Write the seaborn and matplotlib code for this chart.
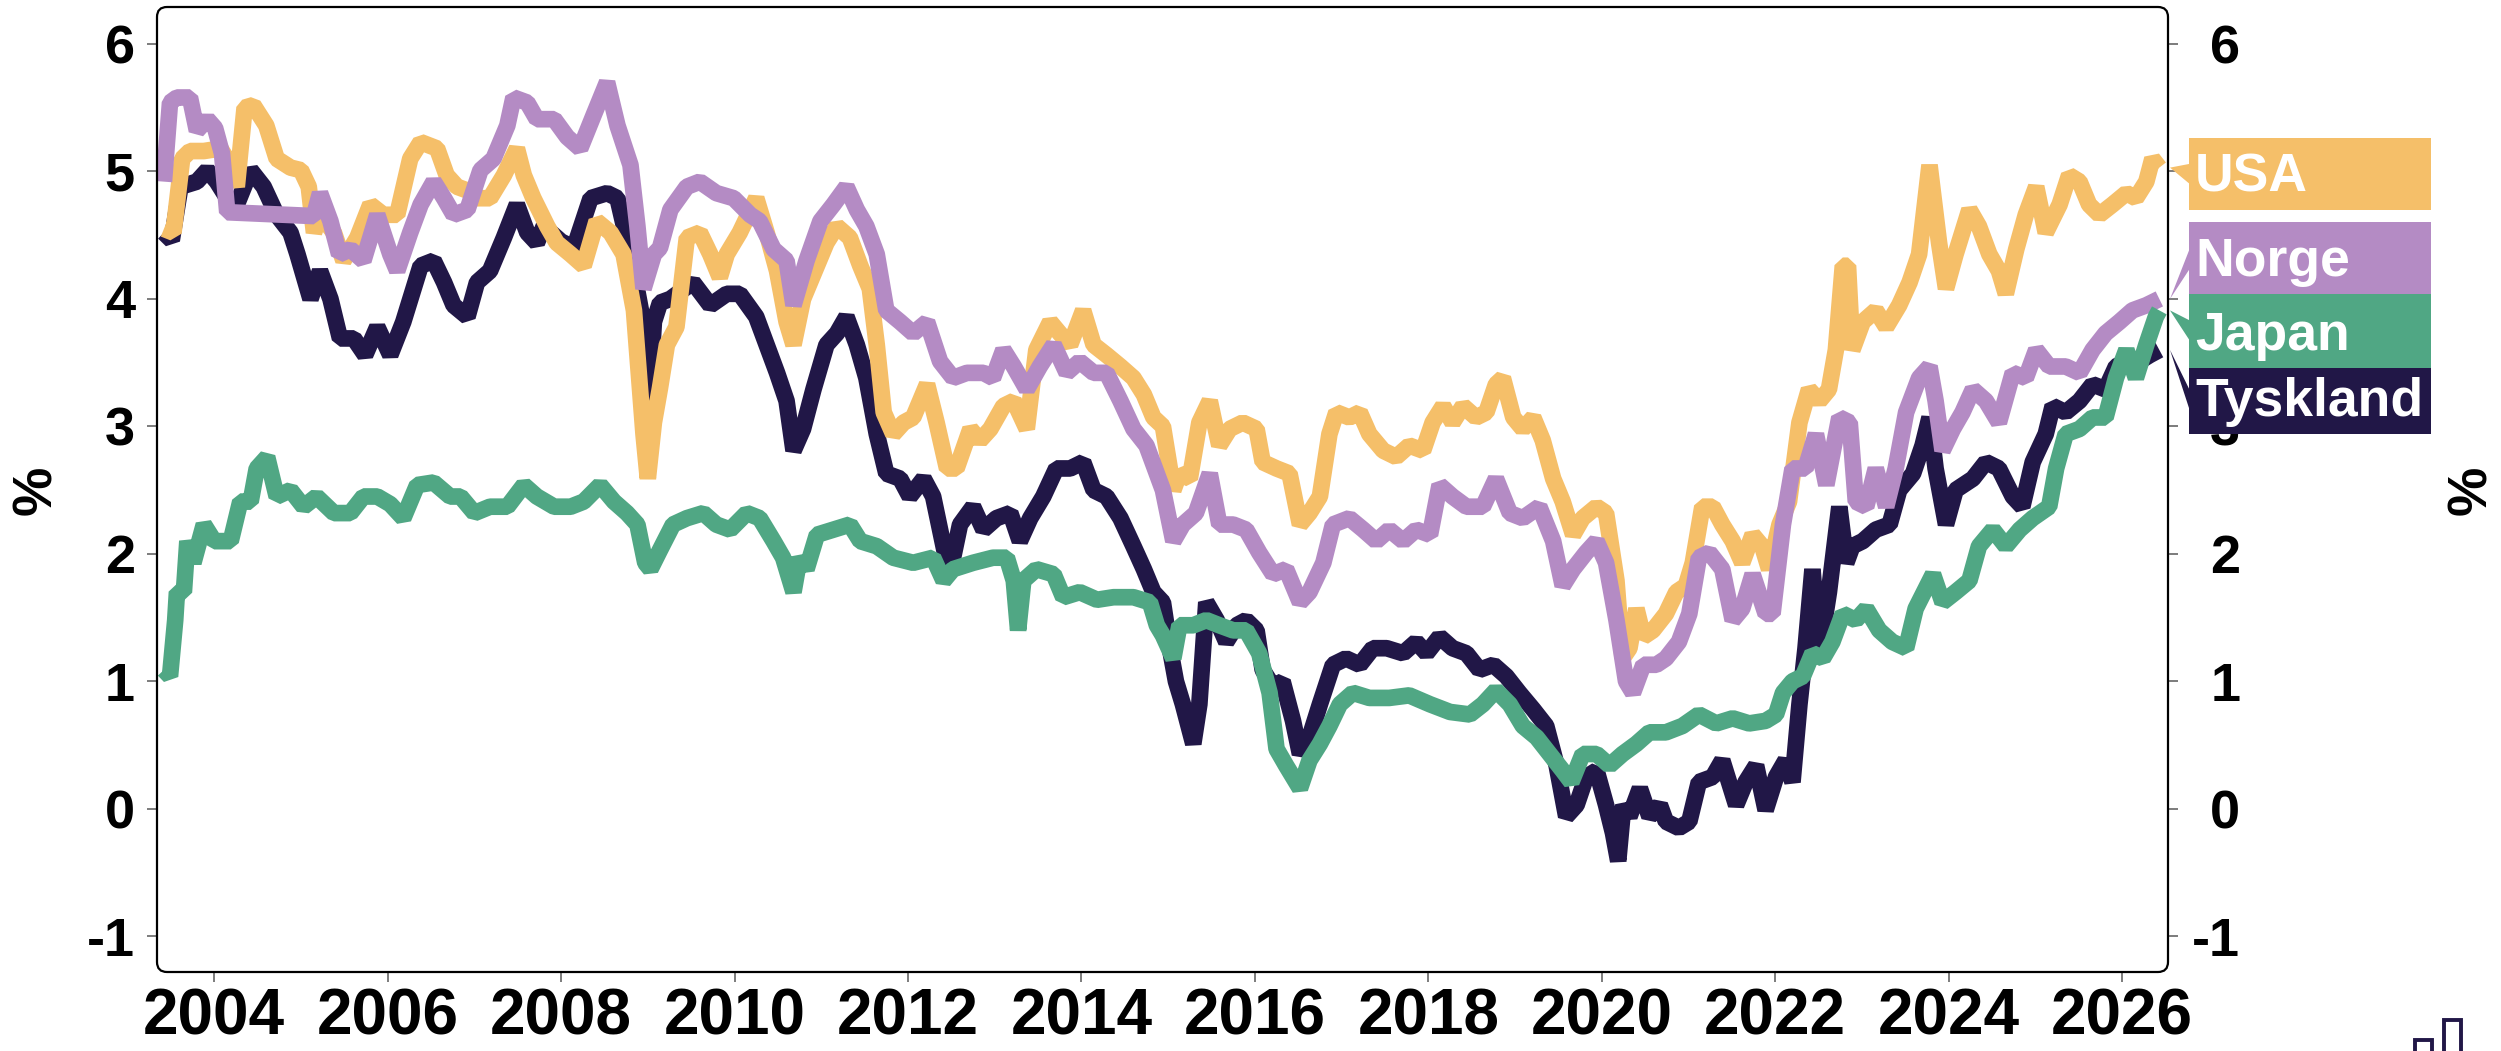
import numpy as np
import pandas as pd
import matplotlib
matplotlib.use("Agg")
import matplotlib.pyplot as plt
import matplotlib.transforms as mtransforms
from matplotlib.patches import FancyBboxPatch, Rectangle, Polygon
import seaborn as sns

# ---- data (decimal year, percent) ----
usa_year = [2003.42, 2003.53, 2003.63, 2003.72, 2003.88, 2004.07, 2004.19, 2004.26, 2004.35, 2004.45,
            2004.60, 2004.72, 2004.88, 2005.00, 2005.09, 2005.15, 2005.22, 2005.38, 2005.49, 2005.65,
            2005.80, 2005.95, 2006.11, 2006.26, 2006.38, 2006.57, 2006.68, 2006.80, 2006.92, 2007.03,
            2007.18, 2007.34, 2007.49, 2007.57, 2007.68, 2007.84, 2007.95, 2008.11, 2008.26, 2008.41,
            2008.57, 2008.72, 2008.84, 2008.95, 2009.00, 2009.07, 2009.14, 2009.22, 2009.33, 2009.45,
            2009.60, 2009.72, 2009.83, 2009.91, 2010.06, 2010.25, 2010.37, 2010.49, 2010.60, 2010.68,
            2010.79, 2010.95, 2011.06, 2011.18, 2011.33, 2011.45, 2011.56, 2011.64, 2011.72, 2011.83,
            2011.95, 2012.06, 2012.22, 2012.33, 2012.45, 2012.56, 2012.72, 2012.83, 2012.95, 2013.10,
            2013.22, 2013.37, 2013.48, 2013.64, 2013.75, 2013.87, 2014.02, 2014.14, 2014.29, 2014.45,
            2014.60, 2014.72, 2014.83, 2014.94, 2015.06, 2015.13, 2015.25, 2015.36, 2015.48, 2015.59,
            2015.71, 2015.86, 2016.02, 2016.09, 2016.25, 2016.40, 2016.52, 2016.63, 2016.75, 2016.86,
            2016.94, 2017.09, 2017.21, 2017.32, 2017.48, 2017.63, 2017.78, 2017.94, 2018.05, 2018.17,
            2018.28, 2018.40, 2018.55, 2018.67, 2018.78, 2018.86, 2018.98, 2019.09, 2019.21, 2019.32,
            2019.44, 2019.55, 2019.67, 2019.78, 2019.94, 2020.05, 2020.17, 2020.24, 2020.32, 2020.40,
            2020.48, 2020.59, 2020.74, 2020.86, 2020.97, 2021.05, 2021.16, 2021.28, 2021.39, 2021.51,
            2021.62, 2021.74, 2021.85, 2021.93, 2022.05, 2022.16, 2022.28, 2022.39, 2022.51, 2022.62,
            2022.70, 2022.78, 2022.84, 2022.89, 2023.01, 2023.16, 2023.28, 2023.43, 2023.55, 2023.66,
            2023.78, 2023.89, 2023.97, 2024.08, 2024.24, 2024.35, 2024.47, 2024.58, 2024.66, 2024.78,
            2024.89, 2025.01, 2025.12, 2025.28, 2025.39, 2025.51, 2025.62, 2025.74, 2025.89, 2026.05,
            2026.16, 2026.28, 2026.35, 2026.43]
usa_val = [4.55, 4.52, 5.10, 5.16, 5.16, 5.18, 5.05, 4.88, 5.50, 5.52,
           5.36, 5.10, 5.03, 5.01, 4.88, 4.52, 4.66, 4.52, 4.30, 4.48,
           4.74, 4.66, 4.66, 5.10, 5.23, 5.18, 4.97, 4.88, 4.85, 4.79,
           4.79, 4.97, 5.18, 4.97, 4.79, 4.57, 4.44, 4.35, 4.26, 4.61,
           4.52, 4.35, 3.91, 2.94, 2.59, 3.03, 3.30, 3.64, 3.78, 4.48,
           4.52, 4.35, 4.17, 4.35, 4.52, 4.79, 4.52, 4.22, 3.82, 3.64,
           4.00, 4.26, 4.44, 4.57, 4.48, 4.26, 4.08, 3.64, 3.11, 2.94,
           3.03, 3.07, 3.33, 3.03, 2.67, 2.67, 2.98, 2.89, 2.98, 3.16,
           3.20, 2.98, 3.60, 3.82, 3.73, 3.64, 3.91, 3.64, 3.56, 3.47,
           3.38, 3.25, 3.07, 3.00, 2.50, 2.63, 2.59, 3.03, 3.20, 2.85,
           2.98, 3.03, 2.98, 2.72, 2.67, 2.63, 2.23, 2.32, 2.45, 2.94,
           3.11, 3.07, 3.11, 2.94, 2.81, 2.76, 2.85, 2.81, 3.03, 3.16,
           3.03, 3.16, 3.07, 3.11, 3.33, 3.38, 3.07, 2.98, 3.07, 2.89,
           2.59, 2.41, 2.15, 2.28, 2.37, 2.32, 1.79, 1.18, 1.26, 1.57,
           1.35, 1.40, 1.53, 1.70, 1.75, 1.93, 2.37, 2.37, 2.23, 2.10,
           1.93, 2.15, 2.06, 1.88, 2.23, 2.41, 3.03, 3.29, 3.20, 3.29,
           3.60, 4.26, 4.26, 3.60, 3.82, 3.91, 3.78, 3.95, 4.13, 4.35,
           5.05, 4.44, 4.08, 4.35, 4.70, 4.57, 4.35, 4.22, 4.04, 4.39,
           4.66, 4.88, 4.52, 4.74, 4.97, 4.92, 4.74, 4.66, 4.74, 4.83,
           4.79, 4.92, 5.10, 5.03]

norge_year = [2003.42, 2003.49, 2003.57, 2003.72, 2003.80, 2003.92, 2004.01, 2004.09, 2004.15, 2005.15,
              2005.22, 2005.34, 2005.44, 2005.57, 2005.72, 2005.88, 2006.03, 2006.11, 2006.26, 2006.38,
              2006.53, 2006.65, 2006.76, 2006.92, 2007.07, 2007.22, 2007.38, 2007.45, 2007.61, 2007.72,
              2007.92, 2008.07, 2008.22, 2008.38, 2008.53, 2008.65, 2008.80, 2008.88, 2008.95, 2009.07,
              2009.14, 2009.26, 2009.45, 2009.60, 2009.79, 2009.99, 2010.18, 2010.29, 2010.45, 2010.60,
              2010.68, 2010.83, 2010.99, 2011.14, 2011.29, 2011.41, 2011.52, 2011.64, 2011.75, 2011.91,
              2012.06, 2012.22, 2012.37, 2012.52, 2012.68, 2012.87, 2012.98, 2013.10, 2013.22, 2013.37,
              2013.52, 2013.68, 2013.83, 2013.98, 2014.14, 2014.29, 2014.45, 2014.60, 2014.75, 2014.87,
              2014.94, 2015.06, 2015.17, 2015.32, 2015.48, 2015.59, 2015.75, 2015.90, 2016.05, 2016.21,
              2016.36, 2016.52, 2016.63, 2016.79, 2016.90, 2017.09, 2017.25, 2017.40, 2017.55, 2017.71,
              2017.86, 2018.02, 2018.13, 2018.28, 2018.44, 2018.63, 2018.78, 2018.94, 2019.09, 2019.28,
              2019.44, 2019.55, 2019.67, 2019.82, 2019.94, 2020.05, 2020.17, 2020.28, 2020.36, 2020.48,
              2020.63, 2020.74, 2020.89, 2021.01, 2021.12, 2021.24, 2021.39, 2021.51, 2021.62, 2021.74,
              2021.89, 2021.97, 2022.09, 2022.20, 2022.35, 2022.47, 2022.59, 2022.74, 2022.86, 2022.93,
              2023.05, 2023.16, 2023.28, 2023.39, 2023.51, 2023.66, 2023.78, 2023.85, 2023.93, 2024.05,
              2024.16, 2024.28, 2024.43, 2024.58, 2024.74, 2024.89, 2025.01, 2025.16, 2025.35, 2025.51,
              2025.66, 2025.81, 2025.97, 2026.12, 2026.28, 2026.43]
norge_val = [4.92, 5.54, 5.58, 5.58, 5.32, 5.41, 5.34, 5.14, 4.68, 4.65,
             4.83, 4.61, 4.35, 4.39, 4.30, 4.66, 4.35, 4.22, 4.52, 4.74,
             4.92, 4.79, 4.66, 4.70, 5.01, 5.10, 5.36, 5.58, 5.54, 5.41,
             5.41, 5.27, 5.18, 5.45, 5.70, 5.36, 5.05, 4.57, 4.08, 4.35,
             4.40, 4.70, 4.88, 4.92, 4.83, 4.79, 4.66, 4.61, 4.39, 4.30,
             3.95, 4.30, 4.61, 4.74, 4.88, 4.70, 4.57, 4.35, 3.91, 3.82,
             3.73, 3.82, 3.51, 3.38, 3.42, 3.42, 3.38, 3.60, 3.47, 3.29,
             3.47, 3.64, 3.42, 3.51, 3.42, 3.42, 3.20, 2.98, 2.85, 2.63,
             2.50, 2.10, 2.23, 2.32, 2.63, 2.23, 2.23, 2.19, 2.01, 1.84,
             1.88, 1.62, 1.70, 1.93, 2.23, 2.28, 2.19, 2.10, 2.19, 2.10,
             2.19, 2.15, 2.54, 2.45, 2.37, 2.37, 2.59, 2.32, 2.28, 2.37,
             2.10, 1.75, 1.88, 2.01, 2.10, 1.93, 1.48, 1.00, 0.91, 1.13,
             1.13, 1.18, 1.31, 1.53, 1.97, 2.01, 1.88, 1.48, 1.57, 1.84,
             1.53, 1.53, 2.23, 2.67, 2.67, 2.94, 2.54, 3.07, 3.03, 2.41,
             2.37, 2.67, 2.37, 2.67, 3.11, 3.38, 3.47, 3.20, 2.81, 2.98,
             3.11, 3.29, 3.20, 3.03, 3.42, 3.38, 3.60, 3.47, 3.47, 3.42,
             3.60, 3.73, 3.82, 3.91, 3.95, 4.00]

japan_year = [2003.42, 2003.49, 2003.55, 2003.57, 2003.65, 2003.69, 2003.76, 2003.88, 2004.00, 2004.19,
              2004.30, 2004.42, 2004.49, 2004.61, 2004.72, 2004.88, 2005.03, 2005.18, 2005.38, 2005.57,
              2005.72, 2005.88, 2006.03, 2006.18, 2006.34, 2006.53, 2006.72, 2006.84, 2007.00, 2007.18,
              2007.38, 2007.57, 2007.72, 2007.92, 2008.11, 2008.26, 2008.45, 2008.61, 2008.76, 2008.88,
              2008.97, 2009.03, 2009.14, 2009.29, 2009.45, 2009.64, 2009.79, 2009.95, 2010.14, 2010.29,
              2010.45, 2010.56, 2010.68, 2010.75, 2010.83, 2010.95, 2011.14, 2011.33, 2011.45, 2011.64,
              2011.83, 2012.06, 2012.29, 2012.41, 2012.52, 2012.75, 2012.98, 2013.14, 2013.22, 2013.27,
              2013.33, 2013.48, 2013.68, 2013.79, 2013.98, 2014.18, 2014.37, 2014.60, 2014.79, 2014.87,
              2014.94, 2015.06, 2015.13, 2015.29, 2015.44, 2015.59, 2015.75, 2015.90, 2016.05, 2016.17,
              2016.25, 2016.36, 2016.52, 2016.63, 2016.75, 2016.86, 2016.98, 2017.13, 2017.32, 2017.55,
              2017.78, 2018.02, 2018.25, 2018.48, 2018.63, 2018.78, 2018.94, 2019.09, 2019.25, 2019.40,
              2019.55, 2019.65, 2019.78, 2019.94, 2020.09, 2020.24, 2020.40, 2020.55, 2020.74, 2020.93,
              2021.12, 2021.32, 2021.51, 2021.70, 2021.89, 2022.01, 2022.09, 2022.20, 2022.32, 2022.43,
              2022.55, 2022.66, 2022.78, 2022.93, 2023.05, 2023.20, 2023.35, 2023.51, 2023.62, 2023.82,
              2023.93, 2024.08, 2024.24, 2024.35, 2024.51, 2024.66, 2024.82, 2024.97, 2025.16, 2025.24,
              2025.35, 2025.51, 2025.66, 2025.81, 2025.93, 2026.05, 2026.16, 2026.28, 2026.39, 2026.43]
japan_val = [1.09, 1.04, 1.48, 1.70, 1.70, 2.10, 1.93, 2.23, 2.10, 2.10,
             2.41, 2.41, 2.67, 2.76, 2.45, 2.50, 2.37, 2.45, 2.32, 2.32,
             2.45, 2.45, 2.39, 2.28, 2.54, 2.56, 2.45, 2.45, 2.32, 2.37,
             2.37, 2.54, 2.45, 2.37, 2.37, 2.41, 2.54, 2.41, 2.32, 2.23,
             1.93, 1.88, 2.03, 2.23, 2.28, 2.32, 2.23, 2.19, 2.32, 2.28,
             2.10, 1.97, 1.70, 1.97, 1.88, 2.15, 2.19, 2.23, 2.10, 2.06,
             1.97, 1.93, 1.97, 1.79, 1.88, 1.93, 1.97, 1.97, 1.79, 1.40,
             1.79, 1.88, 1.84, 1.66, 1.70, 1.64, 1.66, 1.66, 1.62, 1.44,
             1.36, 1.18, 1.44, 1.44, 1.48, 1.44, 1.40, 1.40, 1.22, 0.91,
             0.47, 0.34, 0.16, 0.38, 0.51, 0.65, 0.82, 0.91, 0.87, 0.87,
             0.89, 0.82, 0.76, 0.74, 0.82, 0.93, 0.82, 0.65, 0.56, 0.43,
             0.30, 0.21, 0.43, 0.43, 0.34, 0.43, 0.51, 0.60, 0.60, 0.65,
             0.74, 0.67, 0.71, 0.67, 0.69, 0.74, 0.91, 1.00, 1.04, 1.22,
             1.18, 1.31, 1.53, 1.48, 1.57, 1.40, 1.31, 1.26, 1.57, 1.84,
             1.62, 1.70, 1.79, 2.06, 2.19, 2.06, 2.19, 2.28, 2.37, 2.67,
             2.94, 2.98, 3.07, 3.07, 3.38, 3.60, 3.38, 3.64, 3.86, 3.91]

tysk_year = [2003.42, 2003.51, 2003.61, 2003.80, 2003.92, 2004.03, 2004.15, 2004.26, 2004.42, 2004.57,
             2004.72, 2004.88, 2004.96, 2005.11, 2005.22, 2005.34, 2005.45, 2005.61, 2005.74, 2005.88,
             2006.03, 2006.18, 2006.38, 2006.53, 2006.65, 2006.76, 2006.92, 2007.03, 2007.18, 2007.34,
             2007.49, 2007.61, 2007.72, 2007.80, 2008.00, 2008.15, 2008.34, 2008.53, 2008.65, 2008.80,
             2008.92, 2009.01, 2009.07, 2009.14, 2009.26, 2009.52, 2009.72, 2009.91, 2010.06, 2010.25,
             2010.37, 2010.49, 2010.60, 2010.68, 2010.79, 2010.91, 2011.06, 2011.18, 2011.29, 2011.41,
             2011.52, 2011.64, 2011.75, 2011.91, 2012.02, 2012.18, 2012.29, 2012.41, 2012.48, 2012.60,
             2012.75, 2012.87, 2013.02, 2013.18, 2013.29, 2013.41, 2013.56, 2013.71, 2013.87, 2014.02,
             2014.14, 2014.29, 2014.45, 2014.60, 2014.72, 2014.83, 2014.94, 2015.02, 2015.09, 2015.17,
             2015.29, 2015.36, 2015.44, 2015.56, 2015.67, 2015.79, 2015.90, 2016.02, 2016.09, 2016.21,
             2016.32, 2016.44, 2016.52, 2016.63, 2016.75, 2016.90, 2017.05, 2017.21, 2017.36, 2017.52,
             2017.71, 2017.86, 2017.98, 2018.13, 2018.28, 2018.44, 2018.59, 2018.75, 2018.90, 2019.05,
             2019.21, 2019.36, 2019.48, 2019.59, 2019.71, 2019.82, 2019.94, 2020.05, 2020.13, 2020.19,
             2020.25, 2020.32, 2020.44, 2020.55, 2020.67, 2020.74, 2020.89, 2021.01, 2021.12, 2021.28,
             2021.39, 2021.55, 2021.66, 2021.78, 2021.89, 2022.01, 2022.12, 2022.20, 2022.28, 2022.35,
             2022.43, 2022.51, 2022.62, 2022.74, 2022.82, 2022.89, 2023.01, 2023.16, 2023.32, 2023.43,
             2023.59, 2023.70, 2023.78, 2023.85, 2023.97, 2024.08, 2024.28, 2024.43, 2024.58, 2024.74,
             2024.85, 2024.97, 2025.12, 2025.20, 2025.35, 2025.51, 2025.66, 2025.81, 2025.93, 2026.05,
             2026.20, 2026.32, 2026.43]
tysk_val = [4.52, 4.46, 4.88, 4.92, 5.01, 4.92, 4.79, 4.74, 5.01, 4.88,
            4.66, 4.52, 4.35, 4.00, 4.22, 4.00, 3.69, 3.69, 3.56, 3.78,
            3.56, 3.82, 4.26, 4.30, 4.13, 3.95, 3.86, 4.13, 4.22, 4.48,
            4.74, 4.52, 4.44, 4.57, 4.45, 4.40, 4.79, 4.83, 4.79, 4.35,
            3.91, 3.15, 3.82, 3.97, 4.00, 4.13, 3.95, 4.04, 4.04, 3.86,
            3.64, 3.42, 3.20, 2.81, 2.98, 3.29, 3.64, 3.73, 3.86, 3.64,
            3.38, 2.94, 2.63, 2.59, 2.45, 2.59, 2.45, 2.06, 1.84, 2.23,
            2.37, 2.19, 2.28, 2.32, 2.10, 2.28, 2.45, 2.67, 2.67, 2.72,
            2.50, 2.45, 2.28, 2.06, 1.88, 1.70, 1.62, 1.26, 1.00, 0.82,
            0.51, 0.82, 1.62, 1.48, 1.31, 1.44, 1.48, 1.40, 1.09, 0.96,
            1.00, 0.69, 0.43, 0.56, 0.82, 1.13, 1.18, 1.13, 1.26, 1.26,
            1.22, 1.31, 1.22, 1.35, 1.26, 1.22, 1.09, 1.13, 1.04, 0.91,
            0.78, 0.65, 0.34, -0.06, 0.03, 0.25, 0.30, 0.03, -0.19, -0.41,
            0.03, -0.06, 0.16, -0.06, 0.03, -0.10, -0.15, -0.10, 0.21, 0.25,
            0.38, 0.03, 0.21, 0.34, -0.01, 0.25, 0.38, 0.21, 0.82, 1.26,
            1.88, 1.22, 1.70, 2.37, 1.93, 2.06, 2.10, 2.19, 2.23, 2.50,
            2.63, 2.85, 3.07, 2.67, 2.23, 2.50, 2.59, 2.72, 2.67, 2.45,
            2.37, 2.72, 2.94, 3.16, 3.11, 3.20, 3.33, 3.29, 3.47, 3.51,
            3.51, 3.56, 3.60]

draw_order = ["Tyskland", "USA", "Norge", "Japan"]
label_order = ["USA", "Norge", "Japan", "Tyskland"]
COLORS = {"USA": "#F5BF69", "Norge": "#B48BC4", "Japan": "#50A784", "Tyskland": "#211747"}

# label boxes (value range on the % axis)
BOX_Y = {"USA": (4.70, 5.26), "Norge": (4.04, 4.60), "Japan": (3.46, 4.04), "Tyskland": (2.94, 3.46)}

frames = []
for name, yr, vl in [("USA", usa_year, usa_val), ("Norge", norge_year, norge_val),
                     ("Japan", japan_year, japan_val), ("Tyskland", tysk_year, tysk_val)]:
    frames.append(pd.DataFrame({"year": yr, "value": vl, "series": name}))
df = pd.concat(frames, ignore_index=True)

sns.set_style("white")
plt.rcParams["font.family"] = ["Liberation Sans", "DejaVu Sans"]
plt.rcParams.update({"font.weight": "bold", "text.color": "black",
                     "xtick.labelcolor": "black", "ytick.labelcolor": "black",
                     "axes.unicode_minus": False})

W, H = 2501, 1051
fig = plt.figure(figsize=(W / 100, H / 100), dpi=100)
L, R, T, B = 157, 2168, 7, 972
ax = fig.add_axes([L / W, 1 - B / H, (R - L) / W, (B - T) / H])

sns.lineplot(data=df, x="year", y="value", hue="series", hue_order=draw_order,
             palette=COLORS, linewidth=12, estimator=None, sort=False,
             legend=False, ax=ax)
for ln in ax.get_lines():
    ln.set_solid_joinstyle("bevel")
    ln.set_solid_capstyle("butt")

XMIN, XMAX = 2003.34, 2026.53
YMIN, YMAX = -1.28, 6.29
ax.set_xlim(XMIN, XMAX)
ax.set_ylim(YMIN, YMAX)
ax.set_xticks(np.arange(2004, 2027, 2))
ax.set_xticklabels([str(y) for y in range(2004, 2027, 2)])
ax.set_yticks(range(-1, 7))
ax.set_xlabel("")
ax.set_ylabel("")
for s in ax.spines.values():
    s.set_visible(False)
ax.tick_params(axis="x", bottom=True, length=7, width=1.2, color="#666666",
               labelsize=46, pad=4, labelcolor="black")
ax.tick_params(axis="y", left=True, length=7, width=1.2, color="#666666",
               labelsize=39, pad=9, labelcolor="black")
for t in ax.get_xticklabels() + ax.get_yticklabels():
    t.set_fontweight("bold")

# right-hand axis with the same scale
ax2 = ax.twinx()
ax2.set_ylim(YMIN, YMAX)
ax2.set_yticks(range(-1, 7))
for s in ax2.spines.values():
    s.set_visible(False)
ax2.tick_params(axis="y", right=True, length=7, width=1.2, color="#666666",
                labelsize=39, pad=45, labelcolor="black")
for t in ax2.get_yticklabels():
    t.set_fontweight("bold")
    t.set_horizontalalignment("right")

# rounded frame
frame = FancyBboxPatch((L / W, 1 - B / H), (R - L) / W, (B - T) / H,
                       boxstyle="round,pad=0,rounding_size=0.004",
                       mutation_aspect=W / H, transform=fig.transFigure,
                       fill=False, edgecolor="black", linewidth=1.6, zorder=6)
fig.add_artist(frame)

# axis titles
fig.text(37 / W, 1 - 490 / H, "%", rotation=90, ha="center", va="center",
         fontsize=40, fontweight="bold", color="black")
fig.text(2472 / W, 1 - 490 / H, "%", rotation=90, ha="center", va="center",
         fontsize=40, fontweight="bold", color="black")

# end labels with pointers
trans = mtransforms.blended_transform_factory(ax.transAxes, ax.transData)
last_val = {"USA": usa_val[-1], "Norge": norge_val[-1],
            "Japan": japan_val[-1], "Tyskland": tysk_val[-1]}
bx0 = (2189 - L) / (R - L)
bx1 = (2431 - L) / (R - L)
for name in label_order:
    y0, y1 = BOX_Y[name]
    yc = (y0 + y1) / 2
    box = Rectangle((bx0, y0), bx1 - bx0, y1 - y0, transform=trans,
                    facecolor=COLORS[name], edgecolor="none", clip_on=False, zorder=10)
    fig.add_artist(box)
    tip = Polygon([(1.001, last_val[name]), (bx0 + 0.0005, yc + 0.08), (bx0 + 0.0005, yc - 0.08)],
                  closed=True, transform=trans, facecolor=COLORS[name],
                  edgecolor="none", clip_on=False, zorder=10)
    fig.add_artist(tip)
    fig.text(bx0 + 0.003, y0 + 0.14, name, transform=trans, ha="left", va="baseline",
             color="white", fontsize=38.5, fontweight="bold", zorder=11)

# partial logo at the bottom-right corner
navy = COLORS["Tyskland"]
for x0, top in [(2415, 1040), (2444, 1020)]:
    fig.add_artist(Rectangle((x0 / W, -0.02), 17 / W, 1 - top / H + 0.02,
                             transform=fig.transFigure, fill=False,
                             edgecolor=navy, linewidth=2.8, zorder=10))

fig.savefig("out.png", dpi=100, facecolor="white")
